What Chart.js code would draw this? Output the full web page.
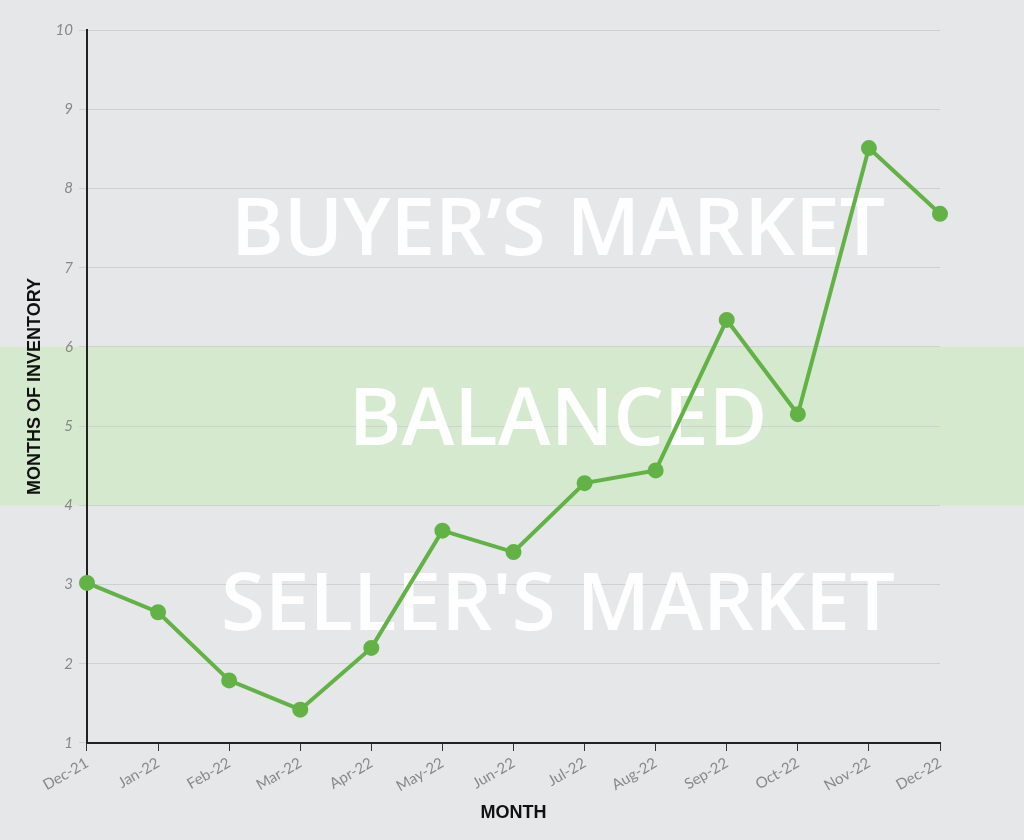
<!DOCTYPE html>
<html><head><meta charset="utf-8">
<script src="https://cdn.jsdelivr.net/npm/chart.js@4"></script>
<style>html,body{margin:0;padding:0;background:#e6e7e8;}#c{display:block;}</style>
</head><body>
<div style="width:1024px;height:840px;"><canvas id="c"></canvas></div>
<script>
const months = ["Dec-21","Jan-22","Feb-22","Mar-22","Apr-22","May-22","Jun-22","Jul-22","Aug-22","Sep-22","Oct-22","Nov-22","Dec-22"];
const inventory = [3.02,2.65,1.79,1.42,2.2,3.68,3.41,4.28,4.44,6.34,5.15,8.51,7.68];
const bandLow = 4, bandHigh = 6;
const zoneLabels = [["BUYER\u2019S MARKET",7.45],["BALANCED",5.05],["SELLER'S MARKET",2.72]];

const band = {
  id:'band',
  beforeDraw(chart){
    const {ctx, scales:{y}} = chart;
    const t = y.getPixelForValue(bandHigh), b = y.getPixelForValue(bandLow);
    ctx.save();
    ctx.fillStyle = '#d5e9cf';
    ctx.fillRect(0, t, chart.width, b - t);
    ctx.restore();
  }
};
const zones = {
  id:'zones',
  beforeDatasetsDraw(chart){
    const {ctx, scales:{y}} = chart;
    ctx.save();
    ctx.fillStyle = 'rgba(255,255,255,0.95)';
    ctx.font = '600 80px "Open Sans", Lato, sans-serif';
    ctx.textAlign = 'center'; ctx.textBaseline = 'middle';
    zoneLabels.forEach(([s,v]) => ctx.fillText(s, 558, y.getPixelForValue(v)));
    ctx.restore();
  }
};
new Chart(document.getElementById('c'), {
  type:'line',
  data:{labels:months, datasets:[{data:inventory, borderColor:'#62b246', backgroundColor:'#62b246', borderWidth:4, pointRadius:6, pointHoverRadius:6, tension:0}]},
  options:{
    responsive:true, maintainAspectRatio:false, animation:false,
    layout:{padding:{left:20,right:84,top:30,bottom:12}},
    plugins:{legend:{display:false}, tooltip:{enabled:false}},
    scales:{
      x:{offset:false,
        grid:{display:true, drawOnChartArea:false, drawTicks:true, tickLength:8, color:'#333'},
        border:{color:'#222', width:2},
        ticks:{color:'#888', font:{size:15, family:'Lato, sans-serif'}, maxRotation:30, minRotation:30},
        title:{display:true, text:'MONTH', color:'#111', font:{size:18, weight:'bold', family:'Liberation Sans, Arial, sans-serif'}}},
      y:{min:1, max:10,
        grid:{color:'#cfd0d2', tickLength:8, drawTicks:true},
        border:{color:'#222', width:2},
        ticks:{stepSize:1, color:'#888', font:{size:15, style:'italic', family:'Lato, sans-serif'}, padding:6},
        title:{display:true, text:'MONTHS OF INVENTORY', color:'#111', font:{size:18, weight:'bold', family:'Liberation Sans, Arial, sans-serif'}}}
    }
  },
  plugins:[band, zones]
});
</script>
</body></html>
